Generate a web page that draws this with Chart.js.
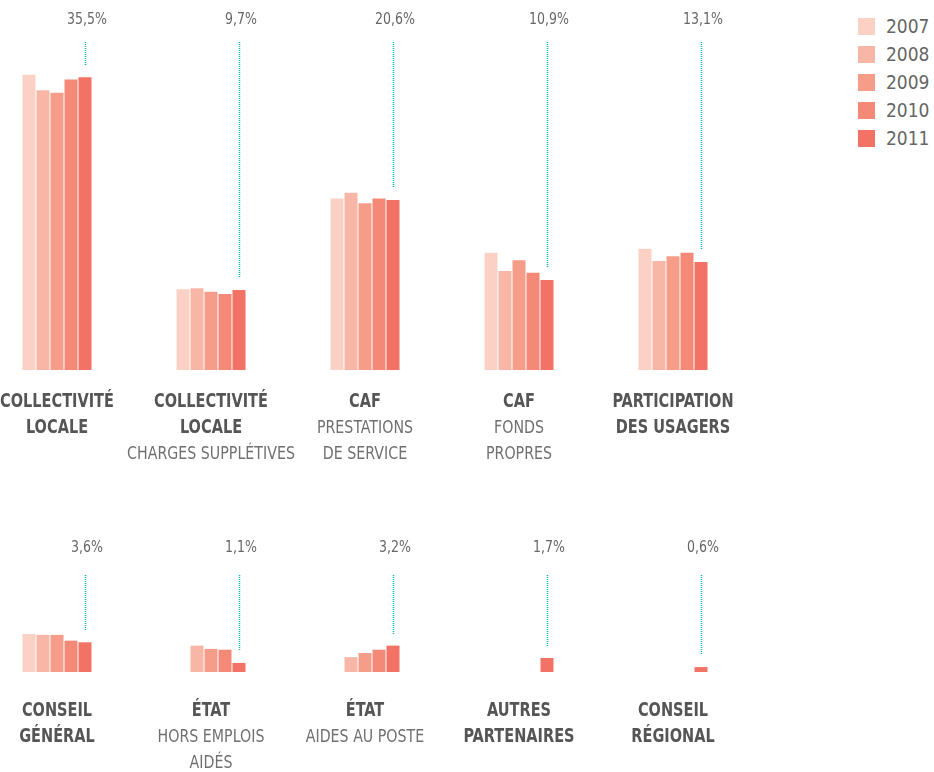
<!DOCTYPE html>
<html>
<head>
<meta charset="utf-8">
<script src="https://cdn.jsdelivr.net/npm/chart.js@4"></script>
<style>
  html, body { margin: 0; padding: 0; background: #fff; }
  body { width: 934px; height: 772px; position: relative; overflow: hidden;
         font-family: "DejaVu Sans Condensed", "Liberation Sans Narrow", "DejaVu Sans", sans-serif; }
  #c1 { position: absolute; left: -20px; top: 0; }
  #c2 { position: absolute; left: -20px; top: 500px; }
  #legend { position: absolute; left: 858px; top: 18px; }
  .li { height: 17px; margin-bottom: 11px; display: flex; align-items: center; }
  .sw { width: 17px; height: 17px; margin-right: 11px; flex: none; }
  .lt { font-size: 19px; color: #666; line-height: 17px; }
</style>
</head>
<body>
<canvas id="c1" width="770" height="480"></canvas>
<canvas id="c2" width="770" height="272"></canvas>
<div id="legend"></div>
<script>
// ---- DATA ----
const years = ["2007", "2008", "2009", "2010", "2011"];
const categories = [
  "Collectivité locale", "Collectivité locale – charges supplétives",
  "CAF – prestations de service", "CAF – fonds propres", "Participation des usagers",
  "Conseil général", "État – hors emplois aidés", "État – aides au poste",
  "Autres partenaires", "Conseil régional"
];
const titleLines = [
  ["COLLECTIVITÉ", "LOCALE"], ["COLLECTIVITÉ", "LOCALE"], ["CAF"], ["CAF"], ["PARTICIPATION", "DES USAGERS"],
  ["CONSEIL", "GÉNÉRAL"], ["ÉTAT"], ["ÉTAT"], ["AUTRES", "PARTENAIRES"], ["CONSEIL", "RÉGIONAL"]
];
const subtitleLines = [
  [], ["CHARGES SUPPLÉTIVES"], ["PRESTATIONS", "DE SERVICE"], ["FONDS", "PROPRES"], [],
  [], ["HORS EMPLOIS", "AIDÉS"], ["AIDES AU POSTE"], [], []
];
const shares2011 = ["35,5%", "9,7%", "20,6%", "10,9%", "13,1%", "3,6%", "1,1%", "3,2%", "1,7%", "0,6%"];
const v2007 = [35.8, 9.8, 20.8, 14.2, 14.7, 4.6, null, null, null, null];
const v2008 = [33.9, 9.9, 21.5, 12.0, 13.2, 4.5, 3.2, 1.8, null, null];
const v2009 = [33.6, 9.5, 20.2, 13.3, 13.8, 4.5, 2.8, 2.3, null, null];
const v2010 = [35.2, 9.2, 20.8, 11.8, 14.2, 3.8, 2.7, 2.7, null, null];
const v2011 = [35.5, 9.7, 20.6, 10.9, 13.1, 3.6, 1.1, 3.2, 1.7, 0.6];
const seriesValues = [v2007, v2008, v2009, v2010, v2011];
const colors = ["#fbd1c5", "#f8b6a6", "#f69d8a", "#f48978", "#f27265"];

// ---- PLUGIN: labels, shares and dotted connectors ----
const FONT = '"DejaVu Sans Condensed", "Liberation Sans Narrow", "DejaVu Sans", sans-serif';
function squeezeText(ctx, text, x, y, sx) {
  ctx.save();
  ctx.translate(x, y);
  ctx.scale(sx, 1);
  ctx.fillText(text, 0, 0);
  ctx.restore();
}
const groupDecor = {
  id: 'groupDecor',
  afterDatasetsDraw(chart, args, o) {
    const ctx = chart.ctx;
    const xs = chart.scales.x;
    const last = chart.getDatasetMeta(chart.data.datasets.length - 1);
    ctx.save();
    ctx.textAlign = 'center';
    ctx.textBaseline = 'middle';
    for (let i = 0; i < o.titles.length; i++) {
      const cx = xs.getPixelForValue(i);
      const bar = last.data[i];
      const lx = Math.round(bar.x) + 0.5;
      // dotted connector
      ctx.strokeStyle = '#00b8b8';
      ctx.lineWidth = 1.5;
      ctx.setLineDash([1, 1]);
      ctx.beginPath();
      ctx.moveTo(lx, o.lineTop);
      ctx.lineTo(lx, Math.round(bar.y) - 12);
      ctx.stroke();
      ctx.setLineDash([]);
      // share label
      ctx.fillStyle = '#666';
      ctx.font = '15px ' + FONT;
      squeezeText(ctx, o.shares[i], bar.x + 2, o.shareY, 0.93);
      // category title lines
      let y = o.labelY;
      ctx.fillStyle = '#555';
      ctx.font = 'bold 19px ' + FONT;
      for (const line of o.titles[i]) { squeezeText(ctx, line, cx, y, 0.85); y += 26.5; }
      ctx.fillStyle = '#707070';
      ctx.font = '17px ' + FONT;
      for (const line of o.subtitles[i]) { squeezeText(ctx, line, cx, y, 0.93); y += 26.5; }
    }
    ctx.restore();
  }
};

function makeRow(canvasId, from, to, yMax, padTop, padBottom, lineTop, shareY, labelY) {
  return new Chart(document.getElementById(canvasId), {
    type: 'bar',
    data: {
      labels: categories.slice(from, to),
      datasets: years.map((y, k) => ({
        label: y,
        data: seriesValues[k].slice(from, to),
        backgroundColor: colors[k],
        borderWidth: 0,
        categoryPercentage: 70 / 154,
        barPercentage: 13 / 14
      }))
    },
    options: {
      responsive: false,
      animation: false,
      layout: { padding: { top: padTop, bottom: padBottom, left: 0, right: 0 } },
      scales: {
        x: { display: false },
        y: { display: false, min: 0, max: yMax }
      },
      plugins: {
        legend: { display: false },
        tooltip: { enabled: false },
        groupDecor: {
          titles: titleLines.slice(from, to),
          subtitles: subtitleLines.slice(from, to),
          shares: shares2011.slice(from, to),
          lineTop, shareY, labelY
        }
      }
    },
    plugins: [groupDecor]
  });
}

makeRow('c1', 0, 5, 40, 40, 110, 42, 20, 402);
makeRow('c2', 5, 10, 12, 73, 100, 75, 48, 211);

// legend
const lg = document.getElementById('legend');
years.forEach((y, k) => {
  const d = document.createElement('div');
  d.className = 'li';
  d.innerHTML = '<div class="sw" style="background:' + colors[k] + '"></div><span class="lt">' + y + '</span>';
  lg.appendChild(d);
});
</script>
</body>
</html>
